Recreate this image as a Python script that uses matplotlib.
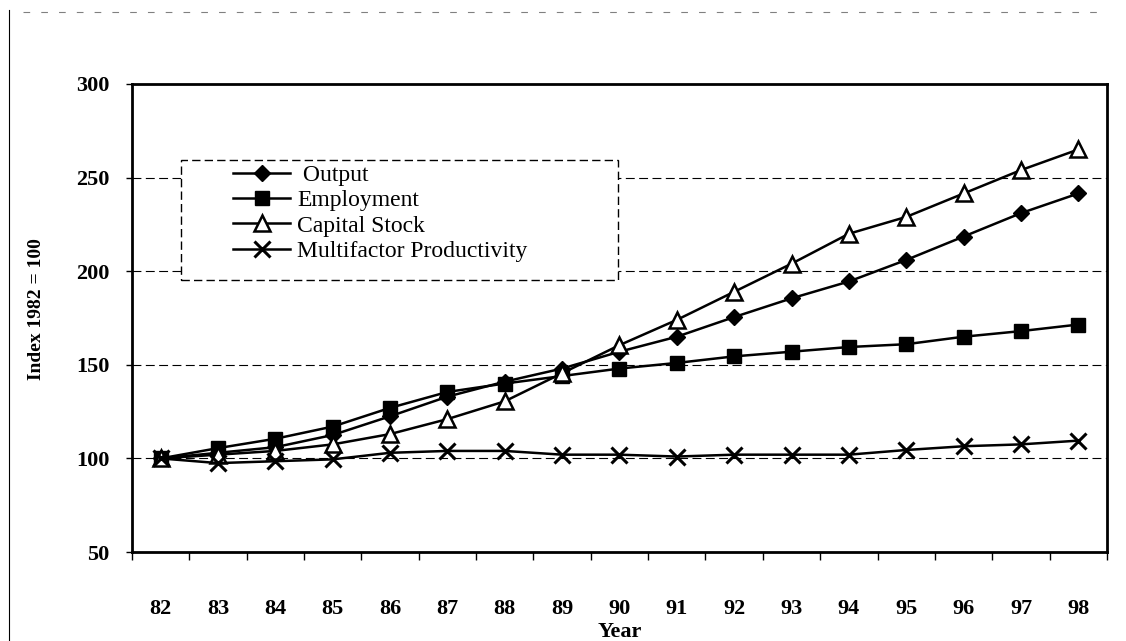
import matplotlib.pyplot as plt
from matplotlib.lines import Line2D
from matplotlib.patches import Rectangle

years = ["82", "83", "84", "85", "86", "87", "88", "89", "90",
         "91", "92", "93", "94", "95", "96", "97", "98"]
output = [100, 103, 106, 112.5, 122.5, 133, 141, 148, 157,
          165, 175.5, 185.5, 194.5, 206, 218.5, 231, 241.5]
employment = [100, 105.5, 110.5, 117, 127, 135.5, 140, 144, 148,
              151, 154.5, 157, 159.5, 161, 165, 168, 171.5]
capital = [100, 102, 104, 107.5, 113, 121, 130.5, 145.5, 160.5,
           174, 189, 204, 220, 229, 241.5, 254, 265]
mfp = [100, 97.5, 98.5, 99.5, 103, 104, 104, 102, 102,
       101, 102, 102, 102, 104.5, 106.5, 107.5, 109.5]

plt.rcParams['font.family'] = ['Liberation Serif', 'DejaVu Serif']

fig = plt.figure(figsize=(11.26, 6.41), dpi=100)
ax = fig.add_axes([0.1172, 0.1388, 0.8659, 0.7302])

x = list(range(len(years)))
ax.plot(x, output, color='black', lw=1.8, marker='D', ms=8, mfc='black', label=' Output')
ax.plot(x, employment, color='black', lw=1.8, marker='s', ms=10, mfc='black', label='Employment')
ax.plot(x, capital, color='black', lw=1.8, marker='^', ms=11, mfc='white', mew=1.8, label='Capital Stock')
ax.plot(x, mfp, color='black', lw=1.8, marker='x', ms=11, mew=2.2, label='Multifactor Productivity')

ax.set_xlim(-0.5, len(years) - 0.5)
ax.set_ylim(50, 300)
ax.set_yticks([50, 100, 150, 200, 250, 300])
ax.set_xticks(x)
ax.set_xticklabels(years)
ax.set_xticks([i - 0.5 for i in range(len(years) + 1)], minor=True)
ax.tick_params(axis='x', which='major', length=0, pad=34, labelsize=16)
ax.tick_params(axis='x', which='minor', length=6, width=1, direction='out')
ax.tick_params(axis='y', length=4, width=1, direction='out', labelsize=16, pad=12)
for lab in ax.get_xticklabels() + ax.get_yticklabels():
    lab.set_fontweight('bold')

ax.yaxis.grid(True, color='black', linestyle=(0, (8, 4)), linewidth=0.8)
ax.set_axisbelow(True)
for s in ax.spines.values():
    s.set_linewidth(2)

ax.set_xlabel('Year', fontsize=16, fontweight='bold', labelpad=2)
ax.set_ylabel('Index 1982 = 100', fontsize=14, fontweight='bold')
ax.yaxis.set_label_coords(-0.089, 0.52)

# legend box: dashed frame drawn separately, entries placed inside
ax.add_patch(Rectangle((0.05, 0.581), 0.448, 0.257, transform=ax.transAxes,
                       facecolor='white', edgecolor='black', lw=1,
                       linestyle=(0, (6, 3)), zorder=3))
leg = ax.legend(loc='upper left', bbox_to_anchor=(0.104, 0.828), fontsize=17,
                frameon=False, handlelength=2.4, handletextpad=0.3,
                labelspacing=0.16, borderpad=0, borderaxespad=0)
leg.set_zorder(4)

# scan page edges
fig.add_artist(Line2D([0.008, 0.008], [0.0, 0.985], color='black', lw=0.8, transform=fig.transFigure))
fig.add_artist(Line2D([0.02, 0.98], [0.982, 0.982], color='gray', lw=0.8,
                      linestyle=(0, (6, 10)), transform=fig.transFigure))

fig.savefig('out.png', dpi=100)
